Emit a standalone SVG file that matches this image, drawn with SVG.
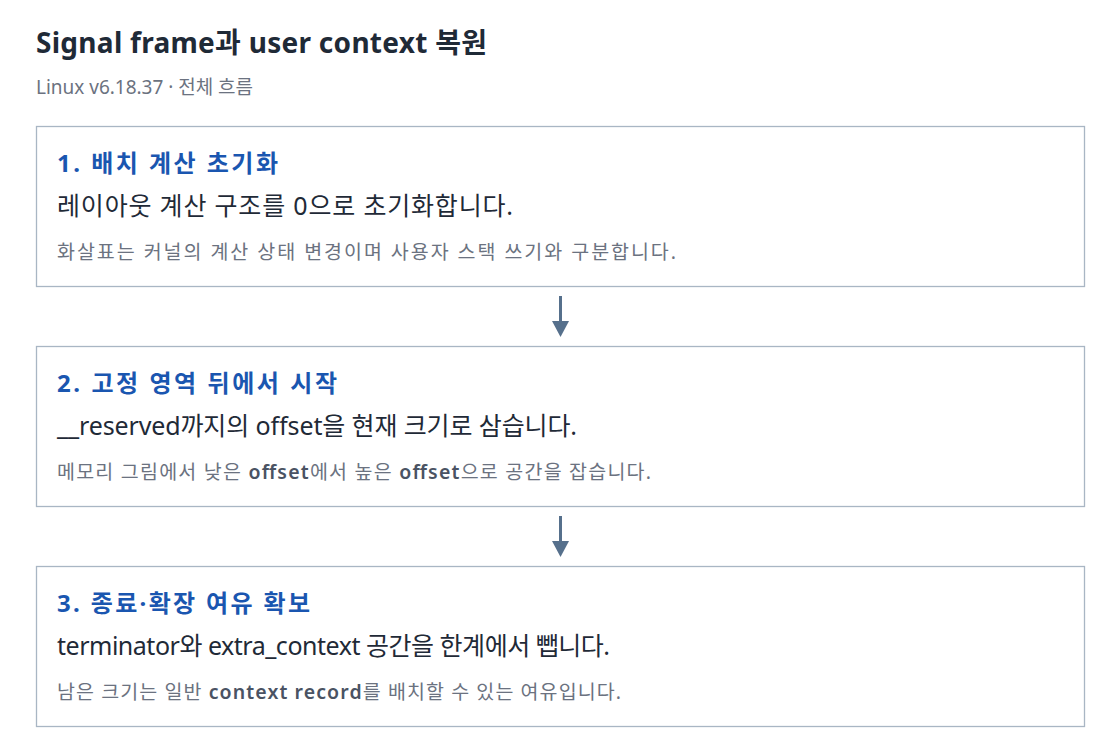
<svg xmlns="http://www.w3.org/2000/svg" width="1120" height="754" viewBox="0 0 1120 754">
<defs>
<style>
text{font-family:"Noto Sans","Noto Sans CJK KR",sans-serif}
.title{font-size:28px;font-weight:700;fill:#1f2a37}
.sub{font-size:19px;fill:#6b7280}
.box{fill:#ffffff;stroke:#a9b6c4;stroke-width:1.3}
.h{font-size:24px;font-weight:700;fill:#1a56b0}
.m{font-size:25px;fill:#1f2a37}
.s{font-size:19.5px;fill:#6b7280}
.b{font-weight:600;fill:#4a5363}
.conn{stroke:#56708c;stroke-width:3;fill:none}
.head{fill:#56708c}
</style>
</defs>
<rect width="1120" height="754" fill="#ffffff"/>
<text class="title" x="36" y="53" textLength="451" lengthAdjust="spacing">Signal frame과 user context 복원</text>
<text class="sub" x="36" y="94" textLength="217" lengthAdjust="spacing">Linux v6.18.37 · 전체 흐름</text>
<g id="conns">
<line class="conn" x1="560.5" y1="296" x2="560.5" y2="322"/>
<path class="head" d="M552,321 L569,321 L560.5,337 Z"/>
<line class="conn" x1="560.5" y1="516" x2="560.5" y2="542"/>
<path class="head" d="M552,541 L569,541 L560.5,557 Z"/>
</g>
<g id="node1">
<rect class="box" x="36.5" y="126.5" width="1048" height="160"/>
<text class="h" x="57" y="172" textLength="221" lengthAdjust="spacing">1. 배치 계산 초기화</text>
<text class="m" x="57" y="215" textLength="456" lengthAdjust="spacing">레이아웃 계산 구조를 0으로 초기화합니다.</text>
<text class="s" x="57" y="259" textLength="619" lengthAdjust="spacing">화살표는 커널의 계산 상태 변경이며 사용자 스택 쓰기와 구분합니다.</text>
</g>
<g id="node2">
<rect class="box" x="36.5" y="346.5" width="1048" height="160"/>
<text class="h" x="57" y="392" textLength="280" lengthAdjust="spacing">2. 고정 영역 뒤에서 시작</text>
<text class="m" x="57" y="435" textLength="520" lengthAdjust="spacing">__reserved까지의 offset을 현재 크기로 삼습니다.</text>
<text class="s" x="57" y="479" textLength="594" lengthAdjust="spacing">메모리 그림에서 낮은 <tspan class="b">offset</tspan>에서 높은 <tspan class="b">offset</tspan>으로 공간을 잡습니다.</text>
</g>
<g id="node3">
<rect class="box" x="36.5" y="566.5" width="1048" height="160"/>
<text class="h" x="57" y="612" textLength="253" lengthAdjust="spacing">3. 종료·확장 여유 확보</text>
<text class="m" x="57" y="655" textLength="553" lengthAdjust="spacing">terminator와 extra_context 공간을 한계에서 뺍니다.</text>
<text class="s" x="57" y="699" textLength="564" lengthAdjust="spacing">남은 크기는 일반 <tspan class="b">context record</tspan>를 배치할 수 있는 여유입니다.</text>
</g>
</svg>
